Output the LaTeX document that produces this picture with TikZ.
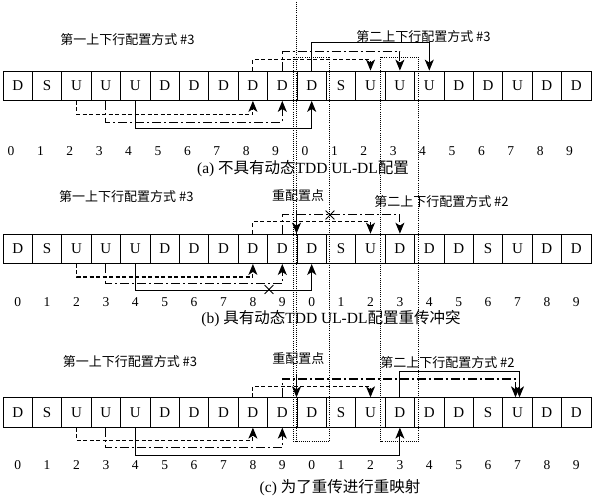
\documentclass[tikz,border=0pt]{standalone}
\usepackage{fontspec}
\setmainfont{Liberation Serif}
\newfontfamily\cjk{Noto Sans CJK SC}
\usetikzlibrary{arrows.meta,shapes.misc}
\begin{document}
\begin{tikzpicture}[x=1pt,y=-1pt,
 cell/.style={draw, line width=0.8pt, minimum width=29.4pt, minimum height=29.5pt, inner sep=0pt, font=\fontsize{15}{15}\selectfont},
 idx/.style={inner sep=0pt, font=\fontsize{13.5}{13.5}\selectfont},
 ttl/.style={inner sep=0pt, font=\cjk\fontsize{13}{13}\selectfont},
 captxt/.style={inner sep=0pt, font=\fontsize{15.5}{15.5}\selectfont},
 con/.style={line width=1.1pt},
 arr/.style={-{Stealth[length=11pt,width=9pt,inset=3pt]}},
 dsh/.style={dash pattern=on 4pt off 2.5pt},
 dd/.style={dash pattern=on 9pt off 3pt on 2pt off 3pt},
 dotline/.style={line width=0.9pt, dash pattern=on 1pt off 1.1pt},
 xmark/.style={cross out, draw, line width=0.8pt, minimum size=8pt, inner sep=0pt}
]
\useasboundingbox[fill=white] (0,0) rectangle (595,500);

% dotted frames
\draw[dotline] (293,57) rectangle (329.3,441.7);
\draw[dotline] (380.7,57) rectangle (418.3,441.7);
\draw[dotline] (296.5,2) -- (296.5,441.7);

% cells
\foreach \L [count=\k from 0] in {D,S,U,U,U,D,D,D,D,D,D,S,U,U,U,D,D,U,D,D}
  \node[cell] (a\k) at ({3+29.4*(\k+0.5)},85.75) {\L};
\foreach \L [count=\k from 0] in {D,S,U,U,U,D,D,D,D,D,D,S,U,D,D,D,S,U,D,D}
  \node[cell] (b\k) at ({3+29.4*(\k+0.5)},248.8) {\L};
\foreach \L [count=\k from 0] in {D,S,U,U,U,D,D,D,D,D,D,S,U,D,D,D,S,U,D,D}
  \node[cell] (c\k) at ({3+29.4*(\k+0.5)},412.5) {\L};

% indices
\foreach \n [count=\k from 0] in {0,1,2,3,4,5,6,7,8,9,0,1,2,3,4,5,6,7,8,9}{
  \node[idx] (ia\k) at ({3+29.4*(\k+0.5)-6.7},151) {\n};
  \node[idx] (ib\k) at ({3+29.4*(\k+0.5)},302) {\n};
  \node[idx] (ic\k) at ({3+29.4*(\k+0.5)},465) {\n};
}

% titles
\node[ttl] (ta1) at (127.5,40) {第一上下行配置方式 \#3};
\node[ttl] (ta2) at (423.5,36.7) {第二上下行配置方式 \#3};
\node[ttl] (tb1) at (126.4,196.7) {第一上下行配置方式 \#3};
\node[ttl] (tb2) at (441.5,202) {第二上下行配置方式 \#2};
\node[ttl] (tc1) at (130,362) {第一上下行配置方式 \#3};
\node[ttl] (tc2) at (447.5,362.3) {第二上下行配置方式 \#2};
\node[ttl] (rb) at (298,195.5) {重配置点};
\node[ttl] (rc) at (298.3,358.3) {重配置点};

% captions
\node[captxt] (capa) at (303,168.5) {(a) {\cjk 不具有动态}TDD UL-DL{\cjk 配置}};
\node[captxt] (capb) at (331,318.5) {(b) {\cjk 具有动态}TDD UL-DL{\cjk 配置重传冲突}};
\node[captxt] (capc) at (340,488) {(c) {\cjk 为了重传进行重映射}};

% row a connectors
\draw[con,dsh,arr] (a2.south) -- ++(0,13.5) -| (a8.south);
\draw[con,dd,arr] (a3.south) -- ++(0,21.5) -| (a9.south);
\draw[con,arr] (a4.south) -- ++(0,27.5) -| (a10.south);
\draw[con,dsh,arr] (a8.north) -- ++(0,-11) -| (a12.north);
\draw[con,dd,arr] (a9.north) -- ++(0,-18.7) -| (a13.north);
\draw[con,arr] (a10.north) -- ++(0,-27.7) -| (a14.north);

% row b connectors
\draw[con,dsh,arr] (b2.south) -- ++(0,13) -| (b8.south);
\draw[con,dd,arr] (b3.south) -- ++(0,19.6) -| (b9.south);
\draw[con,arr] (b4.south) -- ++(0,26.4) -| (b10.south);
\draw[con,dsh,arr] (b8.north) -- ++(0,-12) -| (b12.north);
\draw[con,dd,arr] (b9.north) -- ++(0,-19.3) -| (b13.north);
\coordinate (rpb) at (296.5,211);
\draw[con,arr] (rpb) -- (rpb |- b10.north);
\node[xmark] (xb1) at (330,215) {};
\node[xmark] (xb2) at (269,289.5) {};

% row c connectors
\draw[con,dsh,arr] (c2.south) -- ++(0,12.7) -| (c8.south);
\draw[con,dd,arr] (c3.south) -- ++(0,20) -| (c9.south);
\draw[con,arr] (c4.south) -- ++(0,27.7) -| (c13.south);
\draw[con,dsh,arr] (c8.north) -- ++(0,-11) -| (c12.north);
\draw[con,dd,arr] (c9.north) -- ++(0,-18.4) -| ([xshift=-2pt]c17.north);
\draw[con,arr] (c13.north) -- ++(0,-26) -| ([xshift=2pt]c17.north);
\coordinate (rpc) at (296.5,374);
\draw[con,arr] (rpc) -- (rpc |- c10.north);
\end{tikzpicture}
\end{document}
